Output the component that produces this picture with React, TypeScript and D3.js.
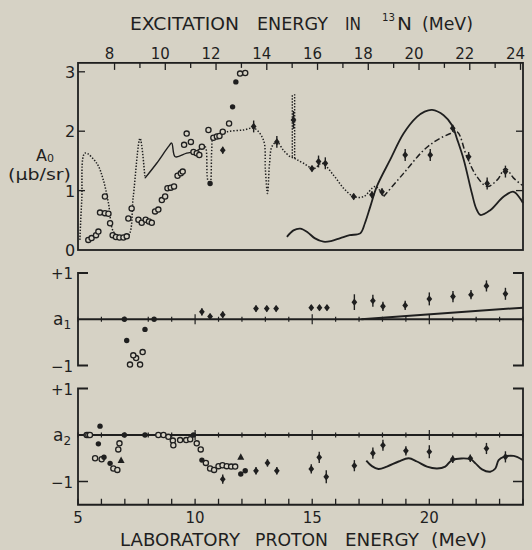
import React from 'react';
import * as d3 from 'd3';

const W = 532;
const H = 550;
const PAPER = '#d6d2c5';
const INK = '#1f1f1f';
const FONT = '"DejaVu Sans", "Liberation Sans", sans-serif';

// 12C(p,gamma)13N Q-value (MeV): Ex = Q + Ep * 12/13
const Q_VALUE = 1.944;

// Axis ticks
const EP_TICKS = [5, 6, 7, 8, 9, 10, 11, 12, 13, 14, 15, 16, 17, 18, 19, 20, 21, 22, 23, 24];
const EP_LABELS = [5, 10, 15, 20];
const EX_TICKS = [8, 9, 10, 11, 12, 13, 14, 15, 16, 17, 18, 19, 20, 21, 22, 23, 24];
const EX_LABELS = [8, 10, 12, 14, 16, 18, 20, 22, 24];
const A0_TICKS = [1, 2, 3];
const A0_LABELS = [0, 1, 2, 3];

// A0 excitation curve drawn through the data: [Ep, A0]
const A0_CURVE_LOW: [number, number][] = [
  [5.08, 0.17], [5.16, 0.84], [5.3, 1.63], [5.8, 1.46], [6.08, 1.18], [6.3, 0.79],
  [6.51, 0.31], [6.79, 0.22], [7.15, 0.24], [7.36, 0.9], [7.65, 1.88], [7.86, 1.21],
];
const A0_CURVE_MID: [number, number][] = [
  [7.86, 1.21], [8.36, 1.46], [8.86, 1.74], [9.0, 1.8], [9.15, 1.57], [9.64, 1.63],
  [10.07, 1.67], [10.29, 1.74],
];
const A0_CURVE_HIGH: [number, number][] = [
  [10.29, 1.74], [10.43, 1.74], [10.54, 1.18], [10.64, 1.12], [10.71, 1.68], [10.78, 1.89],
  [11.35, 1.99], [12.07, 2.02], [12.52, 2.05], [12.92, 1.85], [13.0, 1.35], [13.09, 0.95],
  [13.18, 1.46], [13.28, 1.74], [13.49, 1.82], [13.77, 1.68], [14.06, 1.57], [14.2, 1.55],
  [14.35, 1.52], [14.63, 1.46], [15.06, 1.37], [15.41, 1.46],
  [15.91, 1.26], [16.34, 1.04], [16.77, 0.9], [17.2, 0.9], [17.69, 1.07], [18.05, 0.9],
];
// Narrow resonance near Ep = 14.2 MeV: [Ep, A0 low, A0 high]
const A0_SPIKE: [number, number, number][] = [
  [14.15, 1.57, 2.62], [14.25, 1.54, 2.62],
];
const A0_CURVE_TAIL: [number, number][] = [
  [18.05, 0.9], [18.9, 1.29], [19.76, 1.68], [20.33, 1.85], [20.9, 1.96], [21.19, 1.99],
  [21.6, 1.57], [22.04, 1.23], [22.47, 1.07], [22.9, 1.18], [23.25, 1.37], [23.6, 1.21],
  [23.96, 1.09],
];
// Calculated A0 (solid)
const A0_THEORY: [number, number][] = [
  [13.92, 0.22], [14.2, 0.33], [14.49, 0.36], [14.8, 0.3], [15.1, 0.2], [15.48, 0.14],
  [15.8, 0.15], [16.2, 0.2], [16.6, 0.25], [17.05, 0.28], [17.25, 0.45], [17.48, 0.73],
  [17.76, 1.07], [18.33, 1.52], [18.9, 1.96], [19.47, 2.24], [19.8, 2.33], [20.12, 2.36],
  [20.61, 2.27], [20.97, 2.1], [21.2, 1.85], [21.47, 1.52], [21.82, 0.95], [22.0, 0.7],
  [22.18, 0.59], [22.6, 0.67], [23.18, 0.9], [23.6, 0.98], [24.0, 0.79],
];

// A0 measurements
const A0_OPEN: [number, number][] = [
  [5.44, 0.17], [5.58, 0.2], [5.77, 0.25], [5.87, 0.31], [6.15, 0.9], [5.94, 0.63],
  [6.15, 0.62], [6.3, 0.61], [6.37, 0.45], [6.48, 0.25], [6.62, 0.22], [6.77, 0.21],
  [6.94, 0.21], [7.08, 0.23], [7.15, 0.53], [7.29, 0.7], [7.58, 0.51], [7.72, 0.46],
  [7.89, 0.51], [8.03, 0.48], [8.15, 0.46], [8.29, 0.65], [8.43, 0.68], [8.58, 0.84],
  [8.72, 0.9], [8.82, 1.04], [8.96, 1.05], [9.1, 1.07], [9.25, 1.25], [9.39, 1.29],
  [9.47, 1.32], [9.53, 1.77], [9.64, 1.96], [9.82, 1.82], [9.93, 1.65], [10.07, 1.63],
  [10.18, 1.6], [10.29, 1.74], [10.57, 2.02], [10.78, 1.89], [10.93, 1.91], [11.04, 1.92],
  [11.18, 1.99], [11.45, 2.13], [11.92, 2.97], [12.14, 2.98],
];
const A0_FILLED: [number, number][] = [
  [11.6, 2.41], [11.74, 2.83], [10.64, 1.12],
];
// [Ep, A0, error]
const A0_BARS: [number, number, number][] = [
  [11.18, 1.68, 0.06], [12.5, 2.08, 0.1], [13.49, 1.82, 0.1], [14.2, 2.19, 0.15],
  [14.99, 1.37, 0.05], [15.27, 1.49, 0.1], [15.56, 1.46, 0.1], [16.77, 0.9, 0.05],
  [17.55, 0.93, 0.06], [17.98, 0.98, 0.06], [18.97, 1.6, 0.1], [20.04, 1.6, 0.1],
  [21.0, 2.05, 0.06], [21.68, 1.57, 0.08], [22.47, 1.12, 0.1], [23.25, 1.32, 0.1],
];

// a1 coefficients
const A1_FILLED: [number, number][] = [
  [6.98, 0], [8.25, 0], [7.86, -0.22], [7.08, -0.46],
];
const A1_OPEN: [number, number][] = [
  [7.22, -0.98], [7.65, -0.98], [7.48, -0.84], [7.36, -0.78], [7.76, -0.71],
];
const A1_BARS: [number, number, number][] = [
  [10.29, 0.16, 0.08], [10.64, 0.06, 0.06], [11.18, 0.1, 0.07], [12.6, 0.23, 0.07],
  [13.06, 0.23, 0.06], [13.46, 0.23, 0.06], [14.96, 0.25, 0.06], [15.31, 0.25, 0.06],
  [15.63, 0.25, 0.06], [16.8, 0.37, 0.17], [17.59, 0.4, 0.13], [18.02, 0.28, 0.1],
  [18.97, 0.3, 0.1], [20.0, 0.44, 0.14], [21.01, 0.49, 0.12], [21.78, 0.53, 0.1],
  [22.44, 0.72, 0.12], [23.25, 0.55, 0.13],
];
const A1_THEORY: [number, number][] = [[17.1, 0], [24.0, 0.25]];

// a2 coefficients
const A2_OPEN: [number, number][] = [
  [5.37, 0], [5.44, 0], [5.51, 0], [5.73, -0.5], [6.01, -0.52], [6.51, -0.72],
  [6.68, -0.75], [6.77, -0.18], [6.72, -0.31], [8.43, 0], [8.65, 0], [8.86, -0.04],
  [9.05, -0.12], [9.07, -0.22], [9.36, -0.11], [9.62, -0.11], [9.79, -0.09], [10.07, -0.18],
  [10.24, -0.31], [10.46, -0.6], [10.64, -0.72], [10.81, -0.75], [11.0, -0.67],
  [11.17, -0.65], [11.35, -0.67], [11.54, -0.68], [11.71, -0.68],
];
const A2_FILLED: [number, number][] = [
  [5.94, 0.19], [5.87, -0.19], [6.11, -0.48], [6.37, -0.61], [6.98, 0], [7.86, 0],
  [9.93, 0], [10.29, -0.54], [11.95, -0.84], [12.14, -0.77],
];
const A2_TRIANGLES: [number, number][] = [[6.84, -0.54], [11.95, -0.47]];
const A2_BARS: [number, number, number][] = [
  [11.18, -0.95, 0.1], [12.6, -0.77, 0.08], [13.09, -0.6, 0.08], [13.49, -0.77, 0.08],
  [14.96, -0.73, 0.1], [15.3, -0.48, 0.12], [15.6, -0.9, 0.14], [16.8, -0.66, 0.12],
  [17.59, -0.39, 0.12], [18.02, -0.22, 0.12], [19.0, -0.34, 0.1], [20.0, -0.36, 0.14],
  [21.0, -0.52, 0.08], [21.75, -0.5, 0.08], [22.44, -0.29, 0.12], [23.25, -0.47, 0.12],
];
const A2_THEORY: [number, number][] = [
  [17.31, -0.55], [17.55, -0.67], [17.83, -0.73], [18.19, -0.68], [18.69, -0.57],
  [19.12, -0.5], [19.47, -0.57], [19.9, -0.68], [20.33, -0.72], [20.68, -0.68],
  [20.97, -0.54], [21.75, -0.52], [21.97, -0.61], [22.25, -0.74], [22.6, -0.79],
  [22.82, -0.72], [22.96, -0.54], [23.18, -0.47], [23.6, -0.45], [24.0, -0.54],
];

const exToEp = (ex: number) => ((ex - Q_VALUE) * 13) / 12;

function diamond(cx: number, cy: number, s: number) {
  return `M${cx},${cy - s}L${cx + s * 0.8},${cy}L${cx},${cy + s}L${cx - s * 0.8},${cy}Z`;
}

export default function App() {
  const x = d3.scaleLinear().domain([5, 24]).range([78, 523]);
  const yA0 = d3.scaleLinear().domain([0, 3]).range([250, 71.8]);
  const ya1 = d3.scaleLinear().domain([-1, 1]).range([365.5, 273]);
  const ya2 = d3.scaleLinear().domain([-1, 1]).range([481.5, 388.5]);

  const smooth = d3.curveCatmullRom.alpha(0.5);
  const lineA0 = d3
    .line<[number, number]>()
    .x((d) => x(d[0]))
    .y((d) => yA0(d[1]))
    .curve(smooth);
  const lineA1 = d3
    .line<[number, number]>()
    .x((d) => x(d[0]))
    .y((d) => ya1(d[1]));
  const lineA2 = d3
    .line<[number, number]>()
    .x((d) => x(d[0]))
    .y((d) => ya2(d[1]))
    .curve(smooth);

  const x0 = x(5);
  const x1 = x(24);
  const topY = yA0(3.15);
  const bottomY = ya2(-1.5);

  const openCircles = (pts: [number, number][], y: (v: number) => number, key: string) =>
    pts.map((d, i) => (
      <circle key={key + i} cx={x(d[0])} cy={y(d[1])} r={2.6} fill={PAPER} stroke={INK} strokeWidth={1.3} />
    ));
  const filledCircles = (pts: [number, number][], y: (v: number) => number, key: string) =>
    pts.map((d, i) => <circle key={key + i} cx={x(d[0])} cy={y(d[1])} r={2.7} fill={INK} />);
  const barDiamonds = (pts: [number, number, number][], y: (v: number) => number, key: string) =>
    pts.map((d, i) => (
      <g key={key + i}>
        <line x1={x(d[0])} x2={x(d[0])} y1={y(d[1] - d[2])} y2={y(d[1] + d[2])} stroke={INK} strokeWidth={1.4} />
        <path d={diamond(x(d[0]), y(d[1]), 3.6)} fill={INK} />
      </g>
    ));

  const zeroTicks = (yz: number, key: string) =>
    EP_TICKS.map((t) => {
      const big = EP_LABELS.includes(t) && t !== 5;
      return (
        <line key={key + t} x1={x(t)} x2={x(t)} y1={yz - (big ? 5 : 2.5)} y2={yz + (big ? 5 : 2.5)} stroke={INK} strokeWidth={1.2} />
      );
    });

  return (
    <svg
      width={W}
      height={H}
      viewBox={`0 0 ${W} ${H}`}
      style={{ position: 'absolute', left: 0, top: 0, background: PAPER }}
      fontFamily={FONT}
    >
      <rect x={0} y={0} width={W} height={H} fill={PAPER} />

      {/* Excitation energy title */}
      <g fill={INK} fontSize={17}>
        <text x={130} y={30} textLength={109} lengthAdjust="spacingAndGlyphs">EXCITATION</text>
        <text x={257} y={30} textLength={71} lengthAdjust="spacingAndGlyphs">ENERGY</text>
        <text x={345} y={30} textLength={16} lengthAdjust="spacingAndGlyphs">IN</text>
        <text x={382} y={21} fontSize={11} textLength={13} lengthAdjust="spacingAndGlyphs">13</text>
        <text x={397} y={30} textLength={15} lengthAdjust="spacingAndGlyphs">N</text>
        <text x={422} y={30} textLength={51} lengthAdjust="spacingAndGlyphs">(MeV)</text>
      </g>

      {/* Top (excitation) axis */}
      {EX_TICKS.map((ex) => {
        const px = x(exToEp(ex));
        const major = EX_LABELS.includes(ex);
        return (
          <line key={'ext' + ex} x1={px} x2={px} y1={topY} y2={topY + (major ? 7 : 5)} stroke={INK} strokeWidth={1.3} />
        );
      })}
      {EX_LABELS.map((ex) => (
        <text key={'exl' + ex} x={x(exToEp(ex)) - 5} y={59} fontSize={15} textAnchor="middle" fill={INK}>
          {ex}
        </text>
      ))}

      {/* A0 panel frame */}
      <rect x={x0} y={topY} width={x1 - x0} height={yA0(0) - topY} fill="none" stroke={INK} strokeWidth={1.8} />
      {A0_TICKS.map((t) => (
        <line key={'a0t' + t} x1={x0} x2={x0 + 7} y1={yA0(t)} y2={yA0(t)} stroke={INK} strokeWidth={1.3} />
      ))}
      {[1, 2].map((t) => (
        <line key={'a0r' + t} x1={x1} x2={x1 - 7} y1={yA0(t)} y2={yA0(t)} stroke={INK} strokeWidth={1.3} />
      ))}
      {A0_LABELS.map((t) => (
        <text key={'a0l' + t} x={70} y={yA0(t) + 6} fontSize={16} textAnchor="middle" fill={INK}>
          {t}
        </text>
      ))}
      <text x={36} y={161} fontSize={16} fill={INK}>
        A<tspan fontSize={11} dy={1}>0</tspan>
      </text>
      <text x={8} y={180} fontSize={16} fill={INK} textLength={63} lengthAdjust="spacingAndGlyphs">
        (μb/sr)
      </text>

      {/* A0 curves */}
      <path d={lineA0(A0_CURVE_LOW) ?? ''} fill="none" stroke={INK} strokeWidth={1.5} strokeDasharray="1.4 1.6" />
      <path d={lineA0(A0_CURVE_MID) ?? ''} fill="none" stroke={INK} strokeWidth={1.4} />
      <path d={lineA0(A0_CURVE_HIGH) ?? ''} fill="none" stroke={INK} strokeWidth={1.5} strokeDasharray="1.4 1.8" />
      {A0_SPIKE.map((d, i) => (
        <line key={'sp' + i} x1={x(d[0])} x2={x(d[0])} y1={yA0(d[1])} y2={yA0(d[2])} stroke={INK} strokeWidth={1.4} strokeDasharray="1.4 1.6" />
      ))}
      <path d={lineA0(A0_CURVE_TAIL) ?? ''} fill="none" stroke={INK} strokeWidth={1.5} strokeDasharray="6 2.5 1.5 2.5" />
      <path d={lineA0(A0_THEORY) ?? ''} fill="none" stroke={INK} strokeWidth={1.8} />
      {openCircles(A0_OPEN, yA0, 'a0o')}
      {filledCircles(A0_FILLED, yA0, 'a0f')}
      {barDiamonds(A0_BARS, yA0, 'a0b')}

      {/* a1 panel */}
      <path d={`M${x0 + 10},${ya1(1)}H${x0}V${ya1(-1)}H${x0 + 10}`} fill="none" stroke={INK} strokeWidth={1.8} />
      <path d={`M${x1 - 10},${ya1(1)}H${x1}V${ya1(-1)}H${x1 - 10}`} fill="none" stroke={INK} strokeWidth={1.8} />
      <line x1={x0} x2={x1} y1={ya1(0)} y2={ya1(0)} stroke={INK} strokeWidth={1.8} />
      {zeroTicks(ya1(0), 'z1')}
      <path d={lineA1(A1_THEORY) ?? ''} fill="none" stroke={INK} strokeWidth={2} />
      <text x={62} y={ya1(1) + 6} fontSize={15} textAnchor="middle" fill={INK}>+1</text>
      <text x={62} y={ya1(-1) + 6} fontSize={15} textAnchor="middle" fill={INK}>−1</text>
      <text x={53} y={ya1(0) + 6} fontSize={17} fill={INK}>
        a<tspan fontSize={12} dy={4}>1</tspan>
      </text>
      {filledCircles(A1_FILLED, ya1, 'a1f')}
      {openCircles(A1_OPEN, ya1, 'a1o')}
      {barDiamonds(A1_BARS, ya1, 'a1b')}

      {/* a2 panel */}
      <path d={`M${x0 + 10},${ya2(1)}H${x0}V${bottomY}H${x1}V${ya2(1)}H${x1 - 10}`} fill="none" stroke={INK} strokeWidth={1.8} />
      <line x1={x0} x2={x0 + 10} y1={ya2(-1)} y2={ya2(-1)} stroke={INK} strokeWidth={1.5} />
      <line x1={x1} x2={x1 - 10} y1={ya2(-1)} y2={ya2(-1)} stroke={INK} strokeWidth={1.5} />
      <line x1={x0} x2={x1} y1={ya2(0)} y2={ya2(0)} stroke={INK} strokeWidth={1.8} />
      {zeroTicks(ya2(0), 'z2')}
      {EP_TICKS.map((t) => (
        <line key={'bt' + t} x1={x(t)} x2={x(t)} y1={bottomY} y2={bottomY - 6} stroke={INK} strokeWidth={1.3} />
      ))}
      {EP_LABELS.map((t) => (
        <text key={'bl' + t} x={x(t)} y={523} fontSize={15} textAnchor="middle" fill={INK}>
          {t}
        </text>
      ))}
      <text x={62} y={ya2(1) + 6} fontSize={15} textAnchor="middle" fill={INK}>+1</text>
      <text x={62} y={ya2(-1) + 6} fontSize={15} textAnchor="middle" fill={INK}>−1</text>
      <text x={53} y={ya2(0) + 6} fontSize={17} fill={INK}>
        a<tspan fontSize={12} dy={4}>2</tspan>
      </text>
      <path d={lineA2(A2_THEORY) ?? ''} fill="none" stroke={INK} strokeWidth={1.9} />
      {openCircles(A2_OPEN, ya2, 'a2o')}
      {filledCircles(A2_FILLED, ya2, 'a2f')}
      {A2_TRIANGLES.map((d, i) => {
        const cx = x(d[0]);
        const cy = ya2(d[1]);
        return <path key={'a2t' + i} d={`M${cx},${cy - 3.5}L${cx + 3.5},${cy + 2.8}L${cx - 3.5},${cy + 2.8}Z`} fill={INK} />;
      })}
      {barDiamonds(A2_BARS, ya2, 'a2b')}

      {/* Laboratory energy title */}
      <g fill={INK} fontSize={17}>
        <text x={120} y={546} textLength={120} lengthAdjust="spacingAndGlyphs">LABORATORY</text>
        <text x={255} y={546} textLength={73} lengthAdjust="spacingAndGlyphs">PROTON</text>
        <text x={345} y={546} textLength={74} lengthAdjust="spacingAndGlyphs">ENERGY</text>
        <text x={431} y={546} textLength={56} lengthAdjust="spacingAndGlyphs">(MeV)</text>
      </g>
    </svg>
  );
}
